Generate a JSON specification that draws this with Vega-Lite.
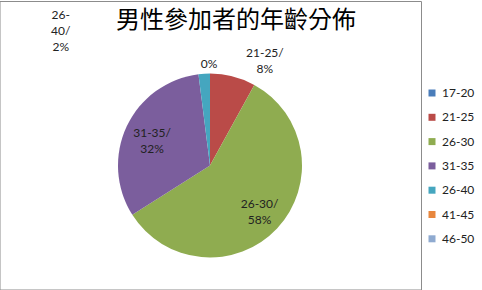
{
  "$schema": "https://vega.github.io/schema/vega-lite/v6.json",
  "width": 420,
  "height": 249,
  "autosize": {"type": "none"},
  "padding": {"left": 0, "top": 41, "right": 62, "bottom": 0},
  "background": "white",
  "config": {"view": {"stroke": null}, "font": "Lato"},
  "title": {
    "text": "男性參加者的年齡分佈",
    "font": "Noto Sans CJK TC",
    "fontSize": 24,
    "fontWeight": "normal",
    "color": "#000000",
    "anchor": "middle",
    "frame": "group",
    "offset": 0,
    "dy": 32,
    "dx": 26
  },
  "data": {
    "values": [
      {"age": "17-20", "v": 0, "i": 1},
      {"age": "21-25", "v": 8, "i": 2},
      {"age": "26-30", "v": 58, "i": 3},
      {"age": "31-35", "v": 32, "i": 4},
      {"age": "26-40", "v": 2, "i": 5},
      {"age": "41-45", "v": 0, "i": 6},
      {"age": "46-50", "v": 0, "i": 7}
    ]
  },
  "transform": [
    {"stack": "v", "groupby": [], "sort": [{"field": "i", "order": "ascending"}], "as": ["v0", "v1"]},
    {"calculate": "(datum.v0 + datum.v1) / 2", "as": "mid"},
    {"calculate": "datum.age + '/\\n' + datum.v + '%'", "as": "lab"}
  ],
  "layer": [
    {
      "transform": [{"filter": "datum.i === 1"}],
      "mark": {"type": "rect", "fill": null, "fillOpacity": 0, "stroke": "#8c8c8c", "strokeWidth": 1, "xOffset": 1.5, "x2Offset": 60.5, "yOffset": -39.5, "y2Offset": -2.5},
      "encoding": {}
    },
    {
      "mark": {"type": "arc", "outerRadius": 92},
      "encoding": {
        "theta": {"field": "v0", "type": "quantitative", "scale": {"domain": [0, 100]}, "stack": false},
        "theta2": {"field": "v1"},
        "color": {
          "field": "age",
          "type": "nominal",
          "sort": ["17-20", "21-25", "26-30", "31-35", "26-40", "41-45", "46-50"],
          "scale": {
            "domain": ["17-20", "21-25", "26-30", "31-35", "26-40", "41-45", "46-50"],
            "range": ["#4A7DBA", "#BA4B48", "#8FAC50", "#7B5E9D", "#45A6BF", "#E8873E", "#8FAAD0"]
          },
          "legend": {
            "title": null,
            "orient": "none",
            "legendX": 426,
            "legendY": 46,
            "padding": 0,
            "symbolType": "square",
            "symbolSize": 49,
            "symbolStrokeWidth": 0,
            "labelFont": "Lato",
            "labelFontSize": 12,
            "labelColor": "#222222",
            "labelOffset": 4,
            "rowPadding": 12.3
          }
        }
      }
    },
    {
      "transform": [{"filter": "datum.age === '21-25'"}],
      "mark": {"type": "text", "radius": 108, "dx": 28, "dy": -8, "fontSize": 12, "lineHeight": 16, "lineBreak": "\n", "color": "#222222", "align": "center", "baseline": "middle"},
      "encoding": {
        "theta": {"field": "mid", "type": "quantitative", "stack": false},
        "text": {"field": "lab"}
      }
    },
    {
      "transform": [{"filter": "datum.age === '26-30'"}],
      "mark": {"type": "text", "radius": 68, "dy": -8, "fontSize": 12, "lineHeight": 16, "lineBreak": "\n", "color": "#222222", "align": "center", "baseline": "middle"},
      "encoding": {
        "theta": {"field": "mid", "type": "quantitative", "stack": false},
        "text": {"field": "lab"}
      }
    },
    {
      "transform": [{"filter": "datum.age === '31-35'"}],
      "mark": {"type": "text", "radius": 64, "dy": -5, "fontSize": 12, "lineHeight": 16, "lineBreak": "\n", "color": "#222222", "align": "center", "baseline": "middle"},
      "encoding": {
        "theta": {"field": "mid", "type": "quantitative", "stack": false},
        "text": {"field": "lab"}
      }
    },
    {
      "transform": [{"filter": "datum.age === '26-40'"}],
      "mark": {"type": "text", "radius": 100, "dx": -143, "dy": -51, "fontSize": 12, "lineHeight": 16, "color": "#222222", "align": "center", "baseline": "middle"},
      "encoding": {
        "theta": {"field": "mid", "type": "quantitative", "stack": false},
        "text": {"value": ["26-", "40/", "2%"]}
      }
    },
    {
      "transform": [{"filter": "datum.age === '17-20'"}],
      "mark": {"type": "text", "radius": 102, "dx": -1, "fontSize": 12, "color": "#222222", "align": "center", "baseline": "middle"},
      "encoding": {
        "theta": {"field": "mid", "type": "quantitative", "stack": false},
        "text": {"value": "0%"}
      }
    }
  ]
}
